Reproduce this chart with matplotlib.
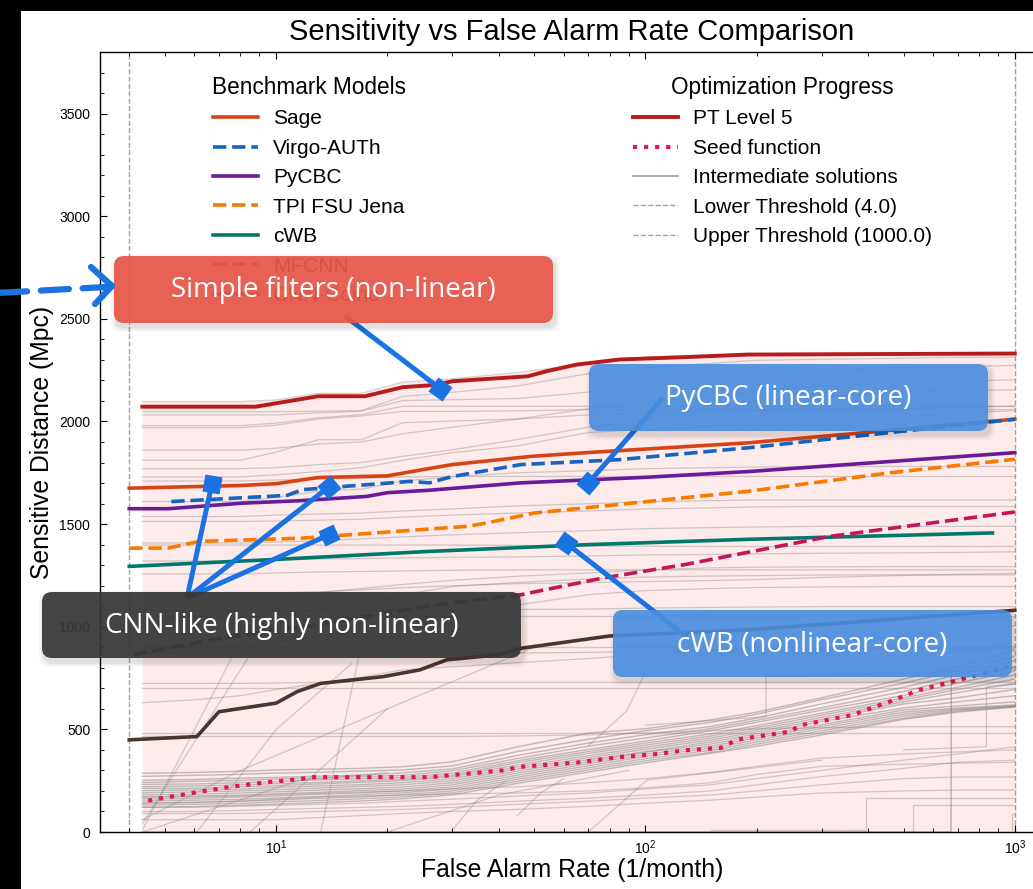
import matplotlib
matplotlib.use("Agg")
import matplotlib.pyplot as plt
import numpy as np
from matplotlib.patches import FancyBboxPatch, Rectangle
from matplotlib.markers import MarkerStyle
from matplotlib.transforms import Affine2D
from matplotlib.lines import Line2D
from matplotlib.ticker import MultipleLocator

plt.rcParams['font.family'] = ['Liberation Sans', 'DejaVu Sans']

W, H = 1033, 889

# ---- benchmark submissions: FAR (1/month) vs sensitive distance (Mpc) ----
sage_far = [4, 8, 10, 13, 20, 26, 30, 49, 69, 190, 400, 1000]
sage_dist = [1675, 1688, 1697, 1727, 1735, 1771, 1790, 1830, 1848, 1896, 1947, 2011]

virgo_far = [5.2, 10.7, 11.8, 17.6, 23, 26, 30, 46, 85, 190, 1000]
virgo_dist = [1610, 1640, 1668, 1692, 1708, 1701, 1732, 1790, 1814, 1872, 2011]

pycbc_far = [4, 5.1, 8.1, 11.6, 17.6, 20, 26, 46, 100, 190, 1000]
pycbc_dist = [1575, 1575, 1602, 1614, 1635, 1653, 1665, 1701, 1728, 1756, 1848]

tpi_far = [4, 5.1, 6.2, 11.6, 26, 33, 37, 50, 190, 460, 1000]
tpi_dist = [1383, 1383, 1416, 1431, 1476, 1489, 1505, 1554, 1660, 1750, 1816]

cwb_far = [4, 10, 26, 70, 190, 870]
cwb_dist = [1294, 1328, 1367, 1400, 1426, 1457]

mfcnn_far = [4.1, 7.6, 12.9, 26, 35, 46, 77, 128, 315, 1000]
mfcnn_dist = [863, 953, 1009, 1102, 1131, 1156, 1238, 1303, 1440, 1559]

cnncoinc_far = [4, 6.1, 7, 10, 11.4, 13.2, 19.5, 24.5, 29, 40, 46, 80, 190, 900, 1000]
cnncoinc_dist = [449, 465, 586, 628, 684, 724, 757, 790, 839, 863, 895, 955, 985, 1074, 1080]

# ---- optimisation run ----
pt5_far = [4.34, 8.8, 13, 17.4, 22, 27, 30, 48, 54, 65, 85, 130, 190, 1000]
pt5_dist = [2072, 2072, 2123, 2123, 2167, 2178, 2196, 2220, 2245, 2277, 2302, 2314, 2326, 2331]

seed_far = [4.5, 6.2, 7.6, 9.4, 11.6, 12.6, 26, 41, 46, 65, 85, 105, 128, 160, 177,
            246, 263, 363, 458, 551, 680, 1000]
seed_dist = [153, 196, 221, 242, 258, 267, 267, 300, 318, 338, 365, 378, 398, 410, 450,
             489, 520, 570, 635, 692, 733, 814]

# intermediate solutions sampled on a common FAR grid
far_grid = [4.34, 6, 8, 10, 13, 17, 22, 30, 45, 70, 100, 150, 200, 300, 500, 700, 1000]

gray_upper = [
    [2097, 2097, 2097, 2105, 2137, 2137, 2192, 2208, 2238, 2283, 2313, 2325, 2329, 2331, 2333, 2333, 2333],
    [2047, 2047, 2047, 2048, 2050, 2053, 2122, 2142, 2173, 2233, 2263, 2283, 2298, 2303, 2308, 2313, 2313],
    [2032, 2032, 2032, 2032, 2042, 2050, 2102, 2106, 2112, 2143, 2173, 2203, 2223, 2253, 2263, 2268, 2273],
    [1980, 1980, 1980, 1992, 2018, 2033, 2074, 2074, 2074, 2074, 2074, 2074, 2074, 2074, 2074, 2074, 2074],
    [1970, 1970, 1970, 1982, 2012, 2027, 2049, 2049, 2052, 2057, 2058, 2058, 2058, 2058, 2058, 2058, 2058],
    [1811, 1811, 1811, 1851, 1911, 1911, 1994, 2002, 2012, 2032, 2043, 2047, 2052, 2057, 2062, 2070, 2074],
    [1730, 1730, 1730, 1740, 1756, 1775, 1811, 1848, 1881, 1946, 1962, 1972, 1987, 2002, 2022, 2042, 2052],
    [1860, 1860, 1860, 1870, 1890, 1900, 1940, 1972, 2012, 2062, 2092, 2122, 2152, 2172, 2192, 2197, 2203],
    [1770, 1770, 1770, 1775, 1790, 1800, 1830, 1862, 1912, 1972, 2012, 2062, 2102, 2122, 2142, 2150, 2154],
]

gray_mid = [
    [1537, 1537, 1537, 1544, 1549, 1554, 1564, 1574, 1589, 1599, 1609, 1614, 1618, 1618, 1618, 1618, 1618],
    [1513, 1513, 1513, 1515, 1519, 1524, 1534, 1544, 1554, 1564, 1574, 1579, 1584, 1586, 1586, 1586, 1586],
    [1408, 1408, 1408, 1413, 1418, 1428, 1438, 1448, 1458, 1468, 1478, 1483, 1486, 1489, 1489, 1489, 1489],
    [1398, 1398, 1398, 1398, 1398, 1398, 1398, 1398, 1396, 1393, 1392, 1391, 1391, 1391, 1391, 1391, 1391],
    [1257, 1257, 1257, 1262, 1267, 1269, 1272, 1275, 1277, 1277, 1277, 1277, 1277, 1277, 1277, 1277, 1277],
    [1710, 1710, 1710, 1715, 1720, 1722, 1730, 1732, 1732, 1732, 1732, 1732, 1732, 1732, 1732, 1732, 1732],
    [1610, 1610, 1610, 1630, 1660, 1670, 1710, 1730, 1750, 1760, 1770, 1775, 1778, 1780, 1781, 1781, 1781],
    [1106, 1106, 1106, 1136, 1166, 1186, 1206, 1226, 1246, 1262, 1277, 1287, 1290, 1292, 1293, 1293, 1293],
    [1046, 1046, 1046, 1056, 1086, 1106, 1156, 1196, 1216, 1232, 1242, 1247, 1249, 1252, 1253, 1253, 1253],
    [905, 905, 905, 925, 955, 986, 1036, 1066, 1106, 1156, 1176, 1186, 1191, 1194, 1196, 1196, 1196],
    [1082, 1082, 1082, 1082, 1082, 1082, 1082, 1082, 1084, 1086, 1091, 1094, 1096, 1098, 1098, 1098, 1098],
    [1050, 1050, 1050, 1050, 1050, 1050, 1050, 1050, 1050, 1050, 1050, 1050, 1050, 1050, 1050, 1050, 1050],
    [903, 903, 903, 903, 903, 903, 903, 903, 903, 903, 903, 903, 903, 903, 903, 903, 903],
    [872, 872, 872, 872, 872, 872, 872, 872, 872, 875, 880, 885, 890, 892, 892, 892, 892],
    [724, 724, 724, 726, 729, 729, 729, 729, 729, 729, 729, 729, 729, 729, 729, 729, 729],
    [630, 644, 664, 694, 724, 754, 790, 805, 825, 845, 865, 885, 905, 925, 955, 985, 1005],
    [702, 702, 702, 702, 702, 702, 702, 702, 702, 702, 702, 702, 702, 702, 702, 702, 702],
    [481, 481, 481, 481, 481, 481, 481, 481, 481, 481, 481, 481, 481, 481, 481, 481, 481],
    [465, 465, 465, 465, 465, 465, 465, 465, 468, 473, 483, 493, 503, 508, 513, 513, 513],
    [1320, 1320, 1320, 1325, 1330, 1332, 1335, 1338, 1340, 1345, 1350, 1352, 1355, 1358, 1360, 1362, 1365],
    [1160, 1160, 1160, 1165, 1170, 1180, 1190, 1200, 1210, 1215, 1220, 1225, 1230, 1240, 1250, 1255, 1260],
]

gray_bundle = [
    [286, 290, 296, 302, 306, 310, 318, 342, 415, 482, 503, 546, 584, 654, 745, 805, 887],
    [271, 276, 281, 287, 291, 297, 302, 322, 392, 452, 493, 534, 574, 645, 725, 786, 856],
    [252, 256, 262, 266, 272, 277, 288, 307, 373, 433, 474, 514, 555, 624, 705, 766, 835],
    [241, 247, 251, 258, 263, 270, 276, 298, 358, 418, 458, 504, 544, 605, 685, 745, 805],
    [232, 234, 240, 246, 254, 260, 266, 287, 347, 402, 443, 494, 534, 594, 665, 725, 785],
    [221, 224, 230, 236, 241, 250, 257, 277, 338, 392, 433, 478, 518, 579, 654, 705, 765],
    [212, 213, 220, 226, 234, 242, 250, 270, 327, 383, 423, 468, 508, 569, 644, 694, 745],
    [201, 205, 209, 217, 224, 231, 240, 260, 317, 372, 413, 458, 498, 558, 634, 679, 724],
    [191, 195, 200, 206, 214, 222, 230, 250, 307, 362, 403, 448, 488, 548, 624, 654, 694],
    [181, 184, 190, 196, 204, 211, 219, 240, 297, 352, 392, 438, 478, 538, 604, 634, 664],
    [171, 175, 179, 187, 193, 202, 209, 230, 287, 342, 388, 428, 468, 523, 594, 614, 634],
    [161, 164, 170, 176, 184, 191, 200, 220, 277, 332, 378, 418, 458, 514, 584, 604, 619],
    [151, 155, 159, 166, 173, 182, 191, 210, 267, 322, 368, 408, 448, 504, 574, 599, 616],
    [141, 144, 150, 156, 164, 171, 182, 200, 257, 312, 357, 398, 438, 493, 564, 594, 612],
    [131, 135, 139, 147, 153, 162, 171, 191, 247, 302, 347, 388, 428, 483, 554, 589, 611],
    [121, 124, 130, 136, 143, 151, 162, 181, 237, 292, 337, 383, 418, 473, 549, 584, 609],
]

gray_low = [
    [120, 120, 125, 130, 135, 140, 150, 160, 175, 190, 210, 230, 260, 300, 350, 380, 415],
    [100, 100, 105, 110, 115, 120, 125, 135, 150, 165, 180, 200, 230, 270, 310, 340, 350],
    [90, 90, 90, 95, 100, 105, 110, 120, 135, 150, 165, 180, 200, 230, 260, 268, 268],
    [60, 60, 60, 60, 70, 80, 90, 100, 110, 125, 140, 155, 170, 190, 200, 204, 204],
    [140, 145, 150, 160, 170, 175, 180, 185, 190, 200, 215, 240, 280, 320, 330, 335, 340],
    [170, 172, 176, 182, 188, 195, 200, 210, 220, 240, 260, 290, 320, 360, 380, 390, 400],
]

# intermediate solutions with their own FAR sampling (jumps and steps)
gray_jump_far = [
    [4.34, 8, 11], [4.34, 9.5, 14], [6.1, 10, 16], [13.2, 17.2, 30],
    [4.34, 11.6, 20], [30, 35, 42], [45, 52, 60],
    [70, 89, 100, 120, 200, 1000], [4.34, 8, 20], [8.5, 20, 50],
    [20, 40, 90], [70, 101, 300],
    [4.34, 672, 673, 1000], [4.34, 672, 673, 1000],
    [150, 396, 396, 1000], [350, 531, 531, 1000], [960, 985, 985, 1000],
    [100, 212, 212, 1000], [500, 838, 838, 1000],
]
gray_jump_dist = [
    [10, 930, 1000], [40, 1000, 1080], [0, 500, 820], [0, 950, 1050],
    [0, 252, 290], [10, 155, 250], [80, 190, 260],
    [420, 590, 780, 850, 880, 905], [60, 300, 600], [0, 600, 900],
    [0, 180, 300], [0, 253, 350],
    [0, 0, 800, 800], [0, 0, 800, 800],
    [10, 10, 164, 164], [0, 0, 132, 132], [0, 0, 90, 90],
    [520, 562, 757, 790], [400, 416, 708, 720],
]

LOWER_THR, UPPER_THR = 4.0, 1000.0

# ---- figure ----
fig = plt.figure(figsize=(W / 100, H / 100), dpi=100, facecolor='black')
fig.add_artist(Rectangle((21 / W, 0), 1, (H - 11) / H, transform=fig.transFigure,
                         fc='white', ec='none', zorder=-10))

ax = fig.add_axes([100 / W, (H - 832) / H, 944 / W, 780 / H])
ax.set_xscale('log')
ax.set_xlim(LOWER_THR / 1.2, UPPER_THR * 1.2)
ax.set_ylim(0, 3800)

# explored region under the best curves
envelope = np.max(np.array(gray_upper), axis=0)
ax.fill_between(far_grid, 0, envelope, color='#fdeaea', lw=0, zorder=0)

gkw = dict(color='#7f7f7f', lw=0.9, alpha=0.35, zorder=1)
for rows in (gray_upper, gray_mid, gray_low):
    for ys in rows:
        ax.plot(far_grid, ys, **gkw)
for ys in gray_bundle:
    ax.plot(far_grid, ys, color='#7a7a7a', lw=1.0, alpha=0.45, zorder=1)
for xs, ys in zip(gray_jump_far, gray_jump_dist):
    ax.plot(xs, ys, **gkw)

thr_kw = dict(color='#8c8c8c', ls='--', lw=1.0, alpha=0.8, zorder=1)
lo = ax.axvline(LOWER_THR, label='Lower Threshold (4.0)', **thr_kw)
hi = ax.axvline(UPPER_THR, label='Upper Threshold (1000.0)', **thr_kw)

bench = [
    ('Sage', sage_far, sage_dist, '#d84315', '-'),
    ('Virgo-AUTh', virgo_far, virgo_dist, '#1565c0', '--'),
    ('PyCBC', pycbc_far, pycbc_dist, '#6a1b9a', '-'),
    ('TPI FSU Jena', tpi_far, tpi_dist, '#f57c00', '--'),
    ('cWB', cwb_far, cwb_dist, '#00796b', '-'),
    ('MFCNN', mfcnn_far, mfcnn_dist, '#c2185b', '--'),
    ('CNN-Coinc', cnncoinc_far, cnncoinc_dist, '#4e342e', '-'),
]
bench_handles = []
for name, xs, ys, col, ls in bench:
    h, = ax.plot(xs, ys, color=col, ls=ls, lw=2.6, label=name, zorder=3)
    bench_handles.append(h)

pt5, = ax.plot(pt5_far, pt5_dist, color='#b71c1c', lw=2.8, label='PT Level 5', zorder=4)
seed, = ax.plot(seed_far, seed_dist, color='#e8164f', ls=':', lw=3.0,
                label='Seed function', zorder=4)
inter = Line2D([], [], color='#9a9a9a', lw=1.2, label='Intermediate solutions')

ax.set_title('Sensitivity vs False Alarm Rate Comparison', fontsize=21, pad=9)
ax.set_xlabel('False Alarm Rate (1/month)', fontsize=17.8, labelpad=1)
ax.set_ylabel('Sensitive Distance (Mpc)', fontsize=17.8, labelpad=4)
ax.set_yticks(range(0, 4000, 500))
ax.yaxis.set_minor_locator(MultipleLocator(100))
ax.tick_params(which='both', direction='in', top=True, right=True, labelsize=10)
ax.tick_params(which='major', length=5, pad=7)
ax.tick_params(axis='x', which='major', pad=4.5)
ax.tick_params(which='minor', length=3)
ax.spines['right'].set_visible(False)
for s in ax.spines.values():
    s.set_linewidth(1.0)

leg_kw = dict(loc='upper left', frameon=False, fontsize=15, title_fontsize=16.3,
              borderaxespad=0, borderpad=0, labelspacing=0.5, handlelength=2.15,
              handletextpad=0.72)
leg1 = ax.legend(handles=bench_handles, title='Benchmark Models',
                 bbox_to_anchor=((212 - 100) / 944, (832 - 76) / 780), **leg_kw)
ax.add_artist(leg1)
ax.legend(handles=[pt5, seed, inter, lo, hi], title='Optimization Progress',
          bbox_to_anchor=((633 - 100) / 944, (832 - 76) / 780), **leg_kw)

# ---- call-out boxes drawn in pixel space on top ----
ov = fig.add_axes([0, 0, 1, 1], zorder=10)
ov.set_xlim(0, W)
ov.set_ylim(H, 0)
ov.axis('off')

ARROW = '#1a73e0'


def to_px(x, y):
    dx, dy = ax.transData.transform((x, y))
    return dx, H - dy


def pointer(src, far, dist):
    tx, ty = to_px(far, dist)
    sx, sy = src
    ov.plot([sx, tx], [sy, ty], color=ARROW, lw=3.6, solid_capstyle='butt', zorder=1)
    ang = np.degrees(np.arctan2(sy - ty, tx - sx))
    mk = MarkerStyle('s', transform=Affine2D().rotate_deg(ang))
    ov.plot([tx], [ty], marker=mk, ms=12.5, color=ARROW, mec='none', zorder=1)


def callout(x0, y0, x1, y1, text, fc, alpha):
    for pad, a in [(5, 0.03), (3, 0.04), (1.5, 0.05)]:
        ov.add_patch(FancyBboxPatch((x0 + 2, y0 + 4), x1 - x0, y1 - y0,
                                    boxstyle=f'round,pad={pad},rounding_size=10',
                                    fc='black', ec='none', alpha=a, zorder=2))
    ov.add_patch(FancyBboxPatch((x0, y0), x1 - x0, y1 - y0,
                                boxstyle='round,pad=0,rounding_size=10',
                                fc=fc, ec='none', alpha=alpha, zorder=3))
    ov.text((x0 + x1) / 2, (y0 + y1) / 2 + 1, text, ha='center', va='center',
            color='white', fontsize=20, family=['Open Sans', 'DejaVu Sans'], zorder=4)


pointer((345, 316), 27.8, 2160)
pointer((663, 398), 70, 1700)
pointer((687, 637), 61, 1407)
for far, dist in [(6.7, 1697), (13.9, 1682), (13.9, 1448)]:
    pointer((187, 598), far, dist)

callout(114, 256, 553, 323, 'Simple filters (non-linear)', '#e8574a', 0.93)
callout(589, 364, 988, 431, 'PyCBC (linear-core)', '#4a8fe0', 0.9)
callout(42, 592, 521, 658, 'CNN-like (highly non-linear)', '#383838', 0.93)
callout(613, 610, 1012, 677, 'cWB (nonlinear-core)', '#4a8fe0', 0.9)

# dashed lead-in arrow from the left margin
ov.plot([-4, 106], [293, 287], color=ARROW, lw=4.5, ls=(0, (4.5, 2.2)),
        dash_capstyle='round', zorder=5)
ov.plot([91, 112, 95], [267, 286, 304], color=ARROW, lw=4.5,
        solid_capstyle='round', solid_joinstyle='round', zorder=5)

fig.savefig('out.png', dpi=100, facecolor=fig.get_facecolor())
